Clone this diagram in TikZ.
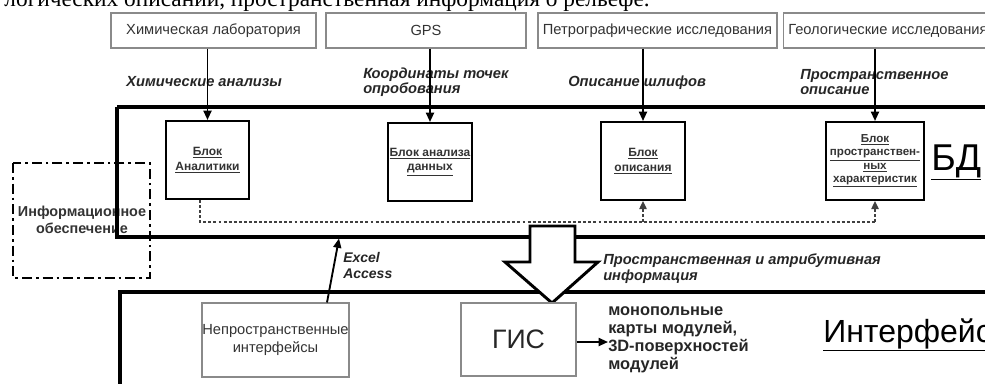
\documentclass[tikz,border=0pt]{standalone}
\usepackage{fontspec}
\setmainfont{Liberation Sans}
\newfontfamily\serifrm{Liberation Serif}
\usetikzlibrary{arrows.meta}

\definecolor{txtgray}{HTML}{333333}
\definecolor{boxgray}{HTML}{8A8A8A}

\tikzset{
  srcbox/.style={draw=boxgray, line width=0.8pt, fill=white, text=txtgray,
    font=\fontsize{11}{13}\selectfont, inner sep=0pt},
  blockbox/.style={draw=black, line width=1.5pt, fill=white, text=txtgray,
    font=\bfseries\fontsize{9}{11}\selectfont, align=center, inner sep=0pt},
  lbl/.style={font=\bfseries\itshape\fontsize{11}{11.5}\selectfont, text=black!85,
    align=left, inner sep=0pt},
  frame/.style={draw=black, line width=2.6pt},
  flow/.style={draw=black, line width=1.4pt, -{Triangle[length=7pt,width=6pt]}},
  dashline/.style={draw=black!75, line width=1pt, dash pattern=on 2.2pt off 1.6pt},
  dasharrow/.style={dashline, -{Triangle[length=6pt,width=5.5pt]}},
  infobox/.style={draw=black, line width=2.2pt,
    dash pattern=on 7.5pt off 3pt on 2pt off 3pt},
}

\begin{document}
\begin{tikzpicture}[x=0.75pt, y=-0.75pt]
\useasboundingbox (0,0) rectangle (985,383);
\clip (0,0) rectangle (985,383);

% caption line running above the scheme
\node[anchor=base east, font=\serifrm\fontsize{17.5}{20}\selectfont, inner sep=0pt]
  (caption) at (650,6.5) {логических описаний, пространственная информация о рельефе.};

% data sources
\node[srcbox, minimum width=153.75pt, minimum height=26.25pt] (lab)  at (213.5,30.5) {Химическая лаборатория};
\node[srcbox, minimum width=150pt,    minimum height=26.25pt] (gps)  at (426,30.5)   {GPS};
\node[srcbox, minimum width=179.25pt, minimum height=26.25pt] (petr) at (657.5,30.5) {Петрографические исследования};
\node[srcbox, minimum width=167.25pt, minimum height=26.25pt, anchor=west] (geol) at (783,30.5) {};
\node[anchor=west, text=txtgray, font=\fontsize{11}{13}\selectfont, inner sep=0pt]
  (geoltxt) at (788,30.5) {Геологические исследования};

% information support (dash-dot frame)
\draw[infobox] (13,163) rectangle (150,278);
\node[font=\bfseries\fontsize{10.8}{12.5}\selectfont, text=txtgray, align=center, inner sep=0pt]
  (info) at (82,220) {Информационное\\обеспечение};

% data base frame
\draw[frame] (117,107) -- (1000,107);
\draw[frame] (1000,237) -- (117,237) -- (117,107);
\node[anchor=base west, font=\fontsize{28}{30}\selectfont, inner sep=0pt] (bd) at (931,170) {\underline{БД}};

% data base blocks
\node[blockbox, minimum width=62.25pt, minimum height=58.5pt] (blkA) at (207.5,160) {\underline{Блок}\\\underline{Аналитики}};
\node[blockbox, minimum width=63pt,    minimum height=58.5pt] (blkD) at (430,162)   {\underline{Блок анализа}\\\underline{данных}};
\node[blockbox, minimum width=63pt,    minimum height=58.5pt] (blkO) at (643,161)   {\underline{Блок}\\\underline{описания}};
\node[blockbox, minimum width=73.5pt,  minimum height=58.5pt, font=\bfseries\fontsize{8.7}{10}\selectfont]
  (blkS) at (875,161) {\underline{Блок}\\\underline{пространствен-}\\\underline{ных}\\\underline{характеристик}};

% flow labels
\node[lbl, anchor=west] (lA) at (126,82) {Химические анализы};
\node[lbl, anchor=west] (lD) at (363,82.5) {Координаты точек\\опробования};
\node[lbl, anchor=west] (lO) at (568,83) {Описание шлифов};
\node[lbl, anchor=west] (lS) at (800,82) {Пространственное\\описание};

% source -> block flows
\draw[flow] (lab.south -| blkA.north) -- (blkA.north);
\draw[flow] (gps.south -| blkD.north) -- (blkD.north);
\draw[flow] (petr.south -| blkO.north) -- (blkO.north);
\draw[flow] (geol.south -| blkS.north) -- (blkS.north);

% internal links between blocks
\coordinate (dA) at (200,222);
\coordinate (dS) at (875,222);
\draw[dashline] (blkA.south -| dA) -- (dA) -- (dS);
\draw[dasharrow] (blkO.south |- dA) -- (blkO.south);
\draw[dasharrow] (dS) -- (blkS.south);

% interface frame
\draw[frame] (1000,292) -- (120,292) -- (120,400);
\node[anchor=base west, font=\fontsize{24}{26}\selectfont, inner sep=0pt] (intf) at (823,342) {\underline{Интерфейс}};

% hollow arrow from the data base to the GIS
\draw[fill=white, draw=black, line width=2.2pt, line join=miter]
  (530,226) -- (575,226) -- (575,262) -- (598,262) -- (552,303) -- (505,262) -- (530,262) -- cycle;
\node[lbl, anchor=west] (lSA) at (603,268.5) {Пространственная и атрибутивная\\информация};

% interface blocks
\node[srcbox, minimum width=110.25pt, minimum height=55.5pt, align=center,
  font=\fontsize{11}{13.5}\selectfont] (nonsp) at (275.5,340) {Непространственные\\интерфейсы};
\node[srcbox, minimum width=86.25pt, minimum height=54.75pt, text=black!85,
  font=\fontsize{20}{22}\selectfont] (gis) at (518.5,339.5) {ГИС};

% Excel / Access export
\coordinate (exTail) at (327,303);
\coordinate (exTip) at (339,238.5);
\draw[flow] (nonsp.north -| exTail) -- (exTip);
\node[lbl, anchor=west, font=\bfseries\itshape\fontsize{10.5}{12}\selectfont] (excel) at (343,265) {Excel\\Access};

% GIS output
\node[anchor=west, align=left, inner sep=0pt, text=black!85,
  font=\bfseries\fontsize{12.3}{13.5}\selectfont] (maps) at (608,339.5)
  {монопольные\\карты модулей,\\3D-поверхностей\\модулей};
\draw[flow] (gis.east |- 0,342) -- (maps.west |- 0,342);

\end{tikzpicture}
\end{document}
